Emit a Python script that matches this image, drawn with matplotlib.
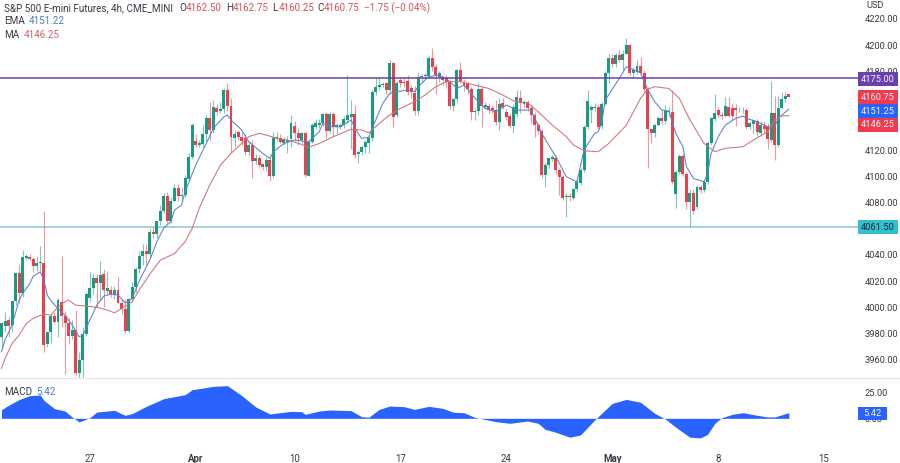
import matplotlib
matplotlib.use("Agg")
import matplotlib.pyplot as plt
import numpy as np
from matplotlib.patches import Rectangle

plt.rcParams["font.family"] = "Roboto"

# 4h bars
opens = [
    3977.5, 3986, 3990, 3986.4, 4004.7, 4026.3, 4010.5, 4037.5, 4038.5, 4036.5,
    4031.4, 4034, 4034, 3971.8, 3981.3, 3993.2, 3988.9, 4004.2, 3993.2, 3988.2,
    3978, 3982.5, 3949.5, 3959.6, 3979.5, 4006.7, 4014.4, 4022, 4018.2, 4025.3,
    4012.6, 4013, 4009.8, 4013, 4002.9, 3998.3, 3981.8, 4006, 4015.6, 4028.9,
    4039, 4043.1, 4040.6, 4057.6, 4055.6, 4066, 4073.4, 4085, 4066, 4081,
    4091, 4085, 4086, 4097.8, 4114.9, 4126.9, 4123.8, 4124.3, 4132.2, 4144.7,
    4135.3, 4152.3, 4149.8, 4151, 4166, 4153.8, 4129, 4133.5, 4130, 4129,
    4118.2, 4123.8, 4111.6, 4113.6, 4109, 4107.3, 4112.4, 4100.4, 4128.9, 4129.4,
    4125.6, 4126, 4128.4, 4138.6, 4132.7, 4127.6, 4133.2, 4100.4, 4126.3, 4137.8,
    4139, 4140.3, 4147.5, 4134.7, 4147.5, 4137.8, 4137.8, 4139, 4142.9, 4144.9,
    4147.5, 4117, 4118.7, 4122, 4125.6, 4128.9, 4164.5, 4167.8, 4169.6, 4170.9,
    4165.8, 4186.2, 4146.7, 4173.4, 4172, 4172.9, 4167, 4163.7, 4149.8, 4176,
    4176.5, 4176.5, 4190.5, 4183.6, 4176, 4176, 4174.7, 4172.2, 4153.6, 4158.7,
    4181, 4172.2, 4170.9, 4166.3, 4148.7, 4149.8, 4166.3, 4153, 4153.6, 4151.8,
    4150.5, 4141.6, 4155.6, 4149.2, 4146, 4138.3, 4147.5, 4160, 4155.1, 4156.9,
    4152.3, 4146.7, 4139, 4134.5, 4100.9, 4108.5, 4112.9, 4114.1, 4104.7, 4099.6,
    4083.9, 4085.1, 4083.6, 4090, 4095, 4104.7, 4137.8, 4150.5, 4151.8, 4152.6,
    4138, 4155.1, 4178.5, 4190, 4185.4, 4192.5, 4188.7, 4193.3, 4200.1, 4178.5,
    4179.8, 4184.1, 4179, 4166.3, 4135.8, 4132.7, 4139, 4144.2, 4142.1, 4149.3,
    4149.3, 4086.4, 4103.4, 4115.4, 4101.7, 4080.5, 4086.9, 4076.7, 4091.5, 4089.4,
    4095.8, 4125.6, 4143.4, 4150.5, 4146.7, 4145.9, 4153, 4151.8, 4151.8, 4150.3,
    4150.3, 4150.5, 4137.8, 4139.8, 4142.4, 4132.7, 4138.3, 4137.8, 4127.6, 4148,
    4123.8, 4152.3, 4158.7, 4162.5,
]
highs = [
    3989, 3996, 3993, 3990, 4007, 4033, 4043.5, 4041, 4041, 4038,
    4039, 4047, 4073.5, 3981, 3995, 3996, 4007, 4039, 3997, 3992,
    3990, 3998, 3966, 3985, 4012, 4027, 4025, 4025, 4035, 4029,
    4028, 4016, 4016, 4023, 4006, 4006, 4007, 4019, 4031, 4043,
    4048, 4048, 4060, 4061, 4066, 4078, 4087, 4088, 4084, 4094,
    4094, 4092, 4101, 4118, 4141, 4132, 4128, 4139, 4147, 4157,
    4158, 4155, 4157, 4167, 4171.5, 4160, 4135, 4135, 4133, 4132,
    4127, 4128, 4117, 4116, 4110, 4115, 4116, 4134, 4134, 4132,
    4130, 4131, 4146.5, 4142, 4137, 4134, 4134, 4128, 4141, 4144,
    4144, 4148, 4149, 4149, 4149, 4141, 4141, 4146, 4177, 4158,
    4154, 4120, 4124, 4128, 4131, 4166, 4176, 4176, 4172, 4172,
    4189, 4187, 4173, 4175, 4176, 4177, 4170, 4169, 4179, 4178,
    4179, 4192, 4197.5, 4186, 4180, 4177, 4177, 4174, 4160, 4182,
    4187, 4174, 4173, 4168, 4152, 4172, 4169, 4157, 4156, 4154,
    4158, 4160, 4160, 4151, 4148, 4155, 4165.5, 4166, 4158, 4158,
    4154, 4149, 4141, 4136, 4110, 4115, 4116, 4116, 4106, 4101,
    4087, 4087, 4091, 4097, 4106, 4139, 4165.5, 4154, 4156, 4155,
    4157, 4180, 4193.3, 4193, 4194, 4196, 4196, 4205.5, 4201, 4183,
    4189, 4191, 4181, 4168, 4137, 4140, 4146, 4150.5, 4154, 4153,
    4166, 4105, 4117, 4117, 4103, 4090, 4090, 4093, 4093, 4097,
    4127, 4145, 4162.7, 4153, 4149, 4160.7, 4160.5, 4155, 4155, 4153,
    4153, 4152, 4142, 4144, 4144, 4142, 4142, 4141, 4172.9, 4161,
    4161, 4164, 4164.5, 4162.75,
]
lows = [
    3970, 3981, 3977, 3981, 4002, 4003, 4008, 4036, 4035, 4027,
    4028, 4028, 3966, 3970, 3973, 3988, 3977.5, 3985, 3949, 3972,
    3976, 3948, 3946, 3946, 3978, 4004, 4010, 4000, 4005, 4000,
    4010, 4008, 4006, 4003, 3995, 3980, 3980, 4004, 4012, 4026,
    4032, 4032, 4038, 4053, 4053, 4063, 4072, 4064, 4064, 4080,
    4081, 4080, 4084, 4096, 4113, 4122, 4122, 4122, 4127, 4128,
    4133, 4147, 4148, 4148, 4150, 4118, 4122, 4128, 4124, 4116,
    4116, 4099, 4109, 4107, 4105, 4104, 4096, 4099, 4127, 4125,
    4124, 4118, 4122, 4127, 4124, 4125, 4099.6, 4100, 4125, 4136,
    4137, 4138, 4128.9, 4133, 4131, 4132, 4136, 4137, 4141, 4121,
    4113.6, 4110, 4116, 4118, 4118, 4127, 4162, 4166, 4168, 4163,
    4163, 4137.8, 4145, 4168, 4168, 4162, 4160, 4147, 4147, 4172,
    4174, 4175, 4180, 4163, 4172, 4170, 4167, 4151, 4150, 4157,
    4171, 4165, 4163, 4143, 4143, 4147, 4137.3, 4151, 4148, 4148,
    4139, 4135, 4151, 4143, 4137, 4133, 4145, 4148, 4153, 4150,
    4141, 4130, 4132, 4099, 4092, 4106, 4112, 4102, 4086, 4082,
    4069, 4081, 4082, 4088, 4093, 4103, 4136, 4141, 4150, 4136,
    4136, 4154, 4171.4, 4183, 4183, 4187, 4181, 4193, 4177, 4175,
    4178, 4178, 4164, 4106, 4125, 4130, 4138, 4140, 4140, 4146,
    4094, 4075.4, 4102, 4100, 4075, 4061.4, 4071, 4075, 4087, 4088,
    4094, 4124, 4142, 4145, 4144, 4145, 4145, 4143, 4138, 4149,
    4148, 4136, 4136, 4133, 4131, 4131, 4133, 4120.5, 4126, 4112.4,
    4122, 4151, 4157, 4160.25,
]
closes = [
    3987.6, 3989.5, 3986, 4004.7, 4026.3, 4010.5, 4038.5, 4038.8, 4036.5, 4031.4,
    4034, 4034.5, 3971, 3981.3, 3993.2, 3988.9, 4005.5, 3993.2, 3988.2, 3978,
    3982.5, 3949.5, 3959.6, 3979.5, 4010, 4014.4, 4022, 4018.2, 4024.5, 4013,
    4014.4, 4009.8, 4013, 4002.9, 3998.3, 3981.8, 4006, 4015.6, 4028.9, 4039,
    4043.1, 4040.6, 4057.6, 4055.6, 4066, 4073.4, 4085, 4066, 4081, 4090.7,
    4085, 4086, 4098.4, 4114.9, 4139, 4123.8, 4125, 4132.2, 4144.7, 4135.3,
    4153, 4149.3, 4151.3, 4166, 4153.8, 4129.7, 4132.2, 4129.7, 4126.9, 4118.2,
    4123.8, 4111.6, 4113.6, 4108.5, 4107.3, 4112.4, 4100.4, 4128.9, 4129.7, 4126.4,
    4128.4, 4128, 4140.9, 4132.7, 4128.9, 4132.7, 4100.9, 4126.3, 4139, 4140.3,
    4140.8, 4147.5, 4134.7, 4147.5, 4137.3, 4139, 4139, 4143.4, 4146.7, 4147.5,
    4116.2, 4118.7, 4122.5, 4126.3, 4128.9, 4164.5, 4167.8, 4169.6, 4170.1, 4165.8,
    4186.2, 4144.9, 4170.9, 4170.9, 4171.4, 4164.5, 4164.5, 4149.8, 4176, 4176.5,
    4177.2, 4190.5, 4183, 4177.2, 4178.5, 4173.4, 4172.2, 4153.6, 4158.7, 4181,
    4172.9, 4169.6, 4166.3, 4148.7, 4149.8, 4166.3, 4153.6, 4154.3, 4150.5, 4150.5,
    4141.6, 4155.1, 4152.6, 4145.4, 4138.3, 4152.6, 4160.7, 4156.1, 4156.9, 4152.3,
    4146.7, 4139, 4134.5, 4100.9, 4108.5, 4113.6, 4114.4, 4104.7, 4099.6, 4083.6,
    4085, 4083.9, 4090, 4095.8, 4104.7, 4137.8, 4157.4, 4152.6, 4153, 4137.8,
    4155.1, 4178.5, 4190, 4185.4, 4192.5, 4188.7, 4193.3, 4200.1, 4178.5, 4181,
    4184.1, 4179, 4166.3, 4135.8, 4132.7, 4139, 4144.2, 4142.4, 4149.8, 4149.8,
    4095.8, 4103.4, 4115.4, 4101.7, 4080.5, 4086.9, 4073.7, 4092, 4089.4, 4095.8,
    4125.6, 4144.2, 4148.5, 4146.7, 4145.9, 4153.6, 4145.9, 4145.9, 4150.5, 4150.8,
    4150.8, 4137.8, 4140.3, 4142.9, 4134, 4139, 4135.8, 4128.1, 4148, 4123.8,
    4152.3, 4158.7, 4161.2, 4160.75,
]

ema_bars = [
    0, 1, 3, 4, 5, 6, 8, 9, 11, 12, 13, 14, 16, 18, 20, 22, 23, 24, 25, 27, 29, 31, 33, 35, 37, 39, 42,
    44, 46, 48, 49, 51, 52, 55, 58, 60, 63, 64, 65, 68, 70, 74, 76, 77, 80, 83,
    87, 90, 91, 93, 96, 99, 101, 102, 104, 106, 108, 110, 112, 115, 117, 118, 121, 124, 127, 129, 131, 133, 135,
    137, 140, 143, 146, 150, 153, 157, 160, 163, 165, 168, 169, 170, 171, 175, 177, 181, 183, 185, 187, 189,
    191, 193, 194, 196, 199, 200, 201, 203, 205, 208, 210, 211, 214, 217, 219, 220, 223,
]
ema_vals = [
    3966, 3975, 3986.4, 3996, 4005.5, 4010.5, 4018, 4023.8, 4027, 4020.7, 4009, 4005, 3999, 3994, 3986.4, 3977.5,
    3978.7, 3983.8, 3990, 4001.6, 4008.5, 4010, 4009.3, 4003.4, 4006.7, 4020, 4036,
    4050, 4060.7, 4065.3, 4074.2, 4078, 4088, 4108.5, 4125, 4136.5, 4145.4, 4146.7, 4142.9, 4135.3, 4126.4, 4117.4,
    4113.6, 4118.7, 4125, 4127.6,
    4126.3, 4134, 4140.3, 4137.8, 4137.8, 4142.9, 4132.7, 4128.9, 4129.7, 4142.9, 4155.6, 4163.3, 4164.5, 4165.8,
    4164.5, 4168.3, 4176, 4177.2, 4172.2, 4167, 4169.6, 4163.3, 4156.9,
    4151.8, 4149.2, 4154.3, 4150.5, 4150.5, 4132.7, 4114.9, 4099.6, 4095.8, 4120, 4132.7, 4134, 4141, 4158, 4174.7,
    4183.6, 4179, 4166.3, 4156.9, 4150.5, 4149.8,
    4132.7, 4122.5, 4107.3, 4098.3, 4095.8, 4102.2, 4117.4, 4130.2, 4139, 4144.2, 4145.9, 4144.2, 4141.6, 4137.8,
    4137.8, 4144.2, 4151.22,
]

ma_bars = [
    0, 1, 3, 5, 7, 9, 12, 14, 16, 18, 19, 21, 24, 27, 30, 32, 34, 37, 39, 42, 45, 49, 52, 54, 56, 59, 62, 65, 68,
    70, 73, 75, 78, 81, 85, 87, 90, 94, 99, 102, 104, 106, 109, 113, 117, 120, 123, 126, 130, 134, 138, 142, 145,
    149, 152, 156, 160, 162, 165, 169, 172, 177, 181, 183, 185, 189, 192, 195, 199, 202, 205, 210, 213, 217, 219,
    221, 223,
]
ma_vals = [
    3953.3, 3960.9, 3972.4, 3978.7, 3987.6, 3991.5, 3994.8, 3994, 4000.4, 4004.2, 4005.5, 4001.6, 4000.9, 3999.9,
    3997.8, 3995.8, 3999, 4004.2, 4013.1, 4025.3, 4036, 4041, 4050, 4060, 4075.5, 4093.3, 4108.5, 4117.4, 4125,
    4130.2, 4132.7, 4131.4, 4128.9, 4127.6, 4124.3, 4122, 4125, 4130.2, 4135.8, 4135.3, 4133.2, 4137.8, 4144.9,
    4151.8, 4156.9, 4162, 4168.3, 4172.2, 4172.2, 4169.6, 4167, 4162, 4157.6, 4156.1, 4149.2, 4139, 4130.2, 4123.8,
    4119.5, 4118.7, 4125, 4139, 4159.4, 4166.3, 4168.3, 4167, 4159.4, 4142.9, 4125, 4118.7, 4121.3, 4122.5, 4127.6,
    4134, 4142.9, 4146, 4146.25,
]

macd_bars = [
    0, 2, 5, 8, 11, 12, 15, 18, 20, 22, 25, 27, 32, 35, 37, 41, 46, 52, 54, 60, 64, 68, 72, 76, 82,
    85, 86, 90, 93, 99, 102, 104, 107, 110, 114, 117, 121, 125, 128, 131, 134, 140, 144, 149, 152, 154, 157, 161,
    164, 168, 169, 173, 177, 181, 185, 188, 191, 195, 198, 200, 202, 204, 207, 210, 213, 217, 219, 223,
]
macd_vals = [
    8.3, 12.5, 18, 21.8, 22.4, 17.3, 9.3, 7, 1.3, -3.5, 0.6, 6, 7.7, 2.9, 4.5, 11.5, 18.9, 22.7, 27.5, 30.7, 31.4,
    22, 10.9, 4.2, 6.7,
    6.4, 3.8, 7, 8, 7.4, 1.6, 1, 8.6, 11.8, 11.2, 8.6, 11.5, 9.6, 5.8, 5.4, 1, -3.2, -4.8, -2.6, -4.8, -10.6, -13.4,
    -18.2, -16, -1.6, 1.6, 14.4, 18.2, 15.4, 4.8, -0.6, -8.6, -18.2, -18.8, -15.4, -5, 0.6, 3.8, 5.4, 3.5, 1.3, 1.3,
    5.42,
]

# 4160, 4140 and 4060 sit fully under the price tags in the original
price_ticks = [4220, 4200, 4180, 4120, 4100, 4080, 4040, 4020, 4000, 3980, 3960]
macd_ticks = [25, 0]
date_bars = [25, 55, 83, 113, 143, 173, 203, 233]
date_labels = ["27", "Apr", "10", "17", "24", "May", "8", "15"]
bold_dates = ["Apr", "May"]

GREEN = "#1a9a80"
RED = "#e8404f"
TEXT = "#363a45"
W, H = 900, 463


def px(x, y):
    return x / W, 1 - y / H


def axes_box(left, top, right, bottom):
    return [left / W, 1 - bottom / H, (right - left) / W, (bottom - top) / H]


def tag(y, label, bg, fg="#f4f4f8", right=898):
    fig.add_artist(Rectangle(px(858, y + 6.8), (right - 858) / W, 13.6 / H, transform=fig.transFigure,
                             facecolor=bg, edgecolor="none", zorder=20))
    fig.text(*px(858 + (right - 858) / 2, y), label, color=fg, fontsize=6.7, ha="center", va="center", zorder=21)


fig = plt.figure(figsize=(W / 100, H / 100), dpi=100, facecolor="white")
ax = fig.add_axes(axes_box(0, 0, 858, 378))
ax2 = fig.add_axes(axes_box(0, 378, 858, 441))

bars = np.arange(len(closes))
o, h, l, c = map(np.array, (opens, highs, lows, closes))
colors = [GREEN if cl >= op else RED for op, cl in zip(o, c)]

ax.vlines(bars, l, h, colors=colors, linewidth=0.8, alpha=0.55, zorder=2)
ax.bar(bars, np.abs(c - o), bottom=np.minimum(o, c), width=0.84, color=colors, linewidth=0, zorder=3)
ax.plot(ema_bars, ema_vals, color="#5a82c4", linewidth=0.75, zorder=4)
ax.plot(ma_bars, ma_vals, color="#cc747b", linewidth=0.75, zorder=4)
ax.axhline(4175, color="#6a42a8", linewidth=1.1, zorder=5)
ax.axhline(4061.5, color="#8accd0", linewidth=1.1, zorder=1)

ax.set_xlim(-0.425, 242.6)
ax.set_ylim(3946, 4234.5)
ax.set_yticks(price_ticks)
ax.set_yticklabels([f"{t:.2f}" for t in price_ticks], color=TEXT, fontsize=6.7)
ax.yaxis.tick_right()
ax.tick_params(axis="y", length=0, pad=5)
ax.set_xticks([])

ax2.fill_between(macd_bars, macd_vals, 0, color="#2962ff", linewidth=0)
ax2.set_xlim(-0.425, 242.6)
ax2.set_ylim(-21.8, 38.75)
ax2.set_yticks(macd_ticks)
ax2.set_yticklabels([f"{t:.2f}" for t in macd_ticks], color=TEXT, fontsize=6.7)
ax2.yaxis.tick_right()
ax2.tick_params(axis="y", length=0, pad=5)
ax2.set_xticks(date_bars)
ax2.set_xticklabels(date_labels, color=TEXT, fontsize=6.9)
for lab in ax2.get_xticklabels():
    if lab.get_text() in bold_dates:
        lab.set_fontweight("bold")
ax2.tick_params(axis="x", length=0, pad=9)

for a in (ax, ax2):
    for s in a.spines.values():
        s.set_visible(False)
    a.patch.set_alpha(0)

fig.add_artist(plt.Line2D([0, 1], [1 - 378 / H] * 2, color="#e6e6ea", linewidth=0.9, transform=fig.transFigure))

# header legend
fig.text(*px(4, 8), "S&P 500 E-mini Futures, 4h, CME_MINI", color=TEXT, fontsize=7.1, va="center")
for x, letter, value in [(179, "O", "4162.50"), (226, "H", "4162.75"), (272, "L", "4160.25"), (317, "C", "4160.75")]:
    fig.text(*px(x, 8), letter, color=TEXT, fontsize=7.1, va="center")
    fig.text(*px(x + 7, 8), value, color="#d8505c", fontsize=7.1, va="center")
fig.text(*px(364, 8), "\u22121.75 (\u22120.04%)", color="#d8505c", fontsize=7.1, va="center")
fig.text(*px(4, 21.5), "EMA", color=TEXT, fontsize=7.1, va="center")
fig.text(*px(29, 21.5), "4151.22", color="#4f7ac0", fontsize=7.1, va="center")
fig.text(*px(4, 35), "MA", color=TEXT, fontsize=7.1, va="center")
fig.text(*px(24, 35), "4146.25", color="#c8666e", fontsize=7.1, va="center")
fig.text(*px(4, 392), "MACD", color=TEXT, fontsize=7.1, va="center")
fig.text(*px(36, 392), "5.42", color="#4f7ac0", fontsize=7.1, va="center")
fig.text(*px(866, 5.5), "USD", color=TEXT, fontsize=6.7, va="center")

# price tags on the right scale
tag(79, "4175.00", "#6a3fb0")
tag(97, "4160.75", "#ef3b4d")
tag(111, "4151.25", "#2962ff")
tag(125, "4146.25", "#ef3b4d")
tag(227, "4061.50", "#2fbfce", fg="#1f2a30")
tag(413.5, "5.42", "#2962ff", right=887)

fig.savefig("out.png", dpi=100)
